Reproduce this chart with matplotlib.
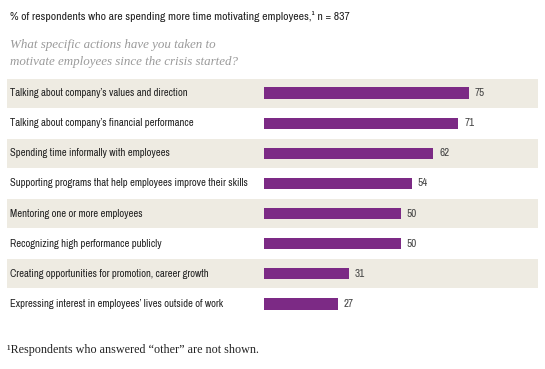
import matplotlib
matplotlib.use("Agg")
import matplotlib.pyplot as plt

# survey answers, top to bottom
actions = [
    "Talking about company\u2019s values and direction",
    "Talking about company\u2019s financial performance",
    "Spending time informally with employees",
    "Supporting programs that help employees improve their skills",
    "Mentoring one or more employees",
    "Recognizing high performance publicly",
    "Creating opportunities for promotion, career growth",
    "Expressing interest in employees\u2019 lives outside of work",
]
shares = [75, 71, 62, 54, 50, 50, 31, 27]

purple = "#7c2a85"
band = "#eeebe2"

narrow = ["Archivo Narrow", "DejaVu Sans"]
serif = ["Liberation Serif", "DejaVu Serif"]

W, H = 545, 369
fig = plt.figure(figsize=(W / 100, H / 100), dpi=100)
fig.patch.set_facecolor("white")

# axes covers the shaded bands, x=7..538 px, y=78..319 px
ax = fig.add_axes([7 / W, 1 - 319 / H, 531 / W, 241 / H])
ppu = 205 / 75.0
left = -(264 - 7) / ppu
ax.set_xlim(left, left + 531 / ppu)
ax.set_ylim(len(actions) - 0.5, -0.5)
ax.axis("off")

for i, (name, v) in enumerate(zip(actions, shares)):
    if i % 2 == 0:
        ax.axhspan(i - 0.48, i + 0.48, color=band, lw=0, zorder=0)
    ax.barh(i, v, height=0.37, color=purple, zorder=2)
    ax.text(v + 2.2, i, str(v), va="center", ha="left", fontsize=8,
            family=narrow, color="#444444")
    ax.text(left + 3 / ppu, i, name, va="center", ha="left", fontsize=7.65,
            family=narrow, color="#222222")

fig.text(10 / W, 1 - 17 / H, "% of respondents who are spending more time motivating employees,\u00b9 n = 837",
         fontsize=8.45, family=narrow, color="#222222", va="center", ha="left")
fig.text(10 / W, 1 - 45 / H, "What specific actions have you taken to",
         fontsize=9.4, family=serif, style="italic", color="#9a9a9a", va="center", ha="left")
fig.text(10 / W, 1 - 62 / H, "motivate employees since the crisis started?",
         fontsize=9.4, family=serif, style="italic", color="#9a9a9a", va="center", ha="left")
fig.text(7 / W, 1 - 350 / H, "\u00b9Respondents who answered \u201cother\u201d are not shown.",
         fontsize=8.7, family=serif, color="#222222", va="center", ha="left")

fig.savefig("out.png", dpi=100)
